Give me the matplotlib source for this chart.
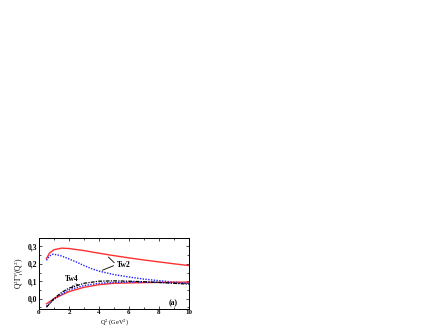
import numpy as np
import matplotlib.pyplot as plt
from matplotlib.ticker import MultipleLocator, FuncFormatter

plt.rcParams['font.family'] = ['Liberation Serif', 'DejaVu Serif']
plt.rcParams['mathtext.fontset'] = 'stix'

# Tw2 curves
q2_tw2_red = [0.5, 0.7, 1.0, 1.5, 2.0, 3.0, 4.0, 5.0, 6.0, 7.0, 8.0, 9.0, 10.0]
tw2_red = [0.23, 0.262, 0.281, 0.29, 0.288, 0.276, 0.261, 0.247, 0.234, 0.222, 0.211, 0.2, 0.19]
q2_tw2_blue = [0.5, 0.7, 0.9, 1.2, 1.5, 2.0, 2.5, 3.0, 3.5, 4.0, 5.0, 6.0, 7.0, 8.0, 9.0, 10.0]
tw2_blue = [0.22, 0.245, 0.255, 0.252, 0.245, 0.228, 0.21, 0.19, 0.172, 0.158, 0.138, 0.124, 0.112, 0.103, 0.095, 0.088]

# Tw4 curves
q2_tw4 = [0.5, 1.0, 1.5, 2.0, 3.0, 4.0, 5.0, 6.0, 7.0, 8.0, 9.0, 10.0]
tw4_red = [-0.03, 0.0, 0.02, 0.04, 0.065, 0.08, 0.088, 0.09, 0.092, 0.093, 0.094, 0.095]
tw4_blue = [-0.045, -0.005, 0.025, 0.05, 0.075, 0.088, 0.093, 0.095, 0.095, 0.093, 0.09, 0.088]
tw4_black = [-0.05, 0.0, 0.035, 0.06, 0.088, 0.1, 0.102, 0.1, 0.097, 0.093, 0.088, 0.083]

fig = plt.figure(figsize=(4.36, 3.27), dpi=100)
ax = fig.add_axes([0.0894, 0.055, 0.344, 0.218])

ax.plot(q2_tw2_red, tw2_red, color='#ff3030', lw=1.0)
ax.plot(q2_tw2_blue, tw2_blue, color='#2020ff', lw=1.0, ls=(0, (1, 1)))
ax.plot(q2_tw4, tw4_red, color='#ff3030', lw=1.0)
ax.plot(q2_tw4, tw4_blue, color='#2020ff', lw=1.0, ls=(0, (1, 1)))
ax.plot(q2_tw4, tw4_black, color='black', lw=0.9, ls=(0, (3, 1, 1, 1)))

# annotations
ax.text(5.2, 0.195, 'Tw2', fontsize=5.5, va='center', ha='left', fontweight='bold')
ax.annotate('', xy=(4.5, 0.25), xytext=(5.15, 0.195),
            arrowprops=dict(arrowstyle='-', lw=0.6, color='black'))
ax.annotate('', xy=(4.05, 0.157), xytext=(5.15, 0.195),
            arrowprops=dict(arrowstyle='-', lw=0.6, color='black'))
ax.text(1.7, 0.112, 'Tw4', fontsize=5.5, va='center', ha='left', fontweight='bold')
ax.annotate('', xy=(2.2, 0.045), xytext=(2.3, 0.092),
            arrowprops=dict(arrowstyle='-', lw=0.6, color='black'))
ax.annotate('', xy=(2.6, 0.078), xytext=(2.3, 0.092),
            arrowprops=dict(arrowstyle='-', lw=0.6, color='black'))
ax.text(8.95, -0.027, '(a)', fontsize=5.5, ha='center', va='center', fontweight='bold')

ax.set_xlim(0, 10)
ax.set_ylim(-0.06, 0.35)
ax.xaxis.set_major_locator(MultipleLocator(2))
ax.xaxis.set_minor_locator(MultipleLocator(1))
ax.yaxis.set_major_locator(MultipleLocator(0.1))
ax.yaxis.set_minor_locator(MultipleLocator(0.05))
ax.yaxis.set_major_formatter(FuncFormatter(lambda v, p: f'{v:.1f}'.replace('.', ',')))
ax.tick_params(which='both', direction='in', top=True, right=True, labelsize=5.5, width=0.5, pad=1.5)
ax.tick_params(axis='x', labelsize=5, pad=1)
ax.tick_params(which='major', length=2.5)
ax.tick_params(which='minor', length=1.5)
for lbl in ax.get_xticklabels() + ax.get_yticklabels():
    lbl.set_fontweight('bold')
for s in ax.spines.values():
    s.set_linewidth(0.7)

ax.set_xlabel(r'Q$^2$ (GeV$^2$)', fontsize=4.5)
ax.xaxis.set_label_coords(0.5, -0.19)
ax.xaxis.label.set_va('center')
ax.set_ylabel(r'Q$^2\Gamma_1^p$(Q$^2$)', fontsize=5.5, labelpad=1)

fig.savefig('out.png', dpi=100)
